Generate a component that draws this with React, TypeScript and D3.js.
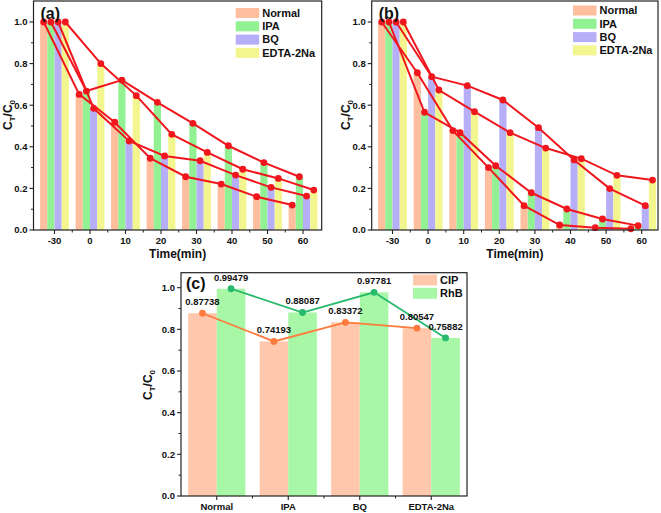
import React from "react";
import * as d3 from "d3";

const times = ["-30", "0", "10", "20", "30", "40", "50", "60"];
const seriesNames = ["Normal", "IPA", "BQ", "EDTA-2Na"];
const seriesColors = ["#FFBE9E", "#92F192", "#B6AEF7", "#F3F68E"];

// Panel (a)
const aNormal = [1.0, 0.652, 0.518, 0.345, 0.256, 0.221, 0.16, 0.12];
const aIPA = [1.0, 0.668, 0.721, 0.614, 0.513, 0.405, 0.324, 0.256];
const aBQ = [1.0, 0.585, 0.428, 0.356, 0.333, 0.264, 0.205, 0.163];
const aEDTA = [1.0, 0.8, 0.646, 0.46, 0.373, 0.292, 0.248, 0.192];

// Panel (b)
const bNormal = [1.0, 0.756, 0.478, 0.3, 0.117, 0.024, 0.011, 0.006];
const bIPA = [1.0, 0.566, 0.468, 0.309, 0.179, 0.101, 0.053, 0.021];
const bBQ = [1.0, 0.737, 0.694, 0.625, 0.492, 0.337, 0.199, 0.117];
const bEDTA = [1.0, 0.673, 0.569, 0.468, 0.394, 0.343, 0.263, 0.24];

// Panel (c)
const cCategories = ["Normal", "IPA", "BQ", "EDTA-2Na"];
const cCIP = [0.87738, 0.74193, 0.83372, 0.80547];
const cRhB = [0.99479, 0.88087, 0.97781, 0.75882];
const cLabelsCIP = ["0.87738", "0.74193", "0.83372", "0.80547"];
const cLabelsRhB = ["0.99479", "0.88087", "0.97781", "0.75882"];

const yTicksAB = [0, 0.2, 0.4, 0.6, 0.8, 1.0];
const yMinorAB = [0.1, 0.3, 0.5, 0.7, 0.9];

const FONT = "'Liberation Sans', Arial, sans-serif";
const AXIS = "#222";

function YTitle({ x, y }: { x: number; y: number }) {
  return (
    <text
      transform={`translate(${x},${y}) rotate(-90)`}
      textAnchor="middle"
      fontFamily={FONT}
      fontWeight="bold"
      fontSize={12}
      fill="#111"
    >
      C
      <tspan fontSize={8} dy={3}>T</tspan>
      <tspan dy={-3}>/C</tspan>
      <tspan fontSize={8} dy={3}>0</tspan>
    </text>
  );
}

function YAxis({ x, y, ticks, minor }: { x: number; y: d3.ScaleLinear<number, number>; ticks: number[]; minor: number[] }) {
  return (
    <g>
      {ticks.map((t) => (
        <g key={"t" + t}>
          <line x1={x - 4} x2={x} y1={y(t)} y2={y(t)} stroke={AXIS} strokeWidth={1.1} />
          <text x={x - 6} y={y(t)} dy="0.35em" textAnchor="end" fontFamily={FONT} fontWeight="bold" fontSize={9.5} fill="#111">
            {d3.format(".1f")(t)}
          </text>
        </g>
      ))}
      {minor.map((t) => (
        <line key={"m" + t} x1={x - 2.5} x2={x} y1={y(t)} y2={y(t)} stroke={AXIS} strokeWidth={1} />
      ))}
    </g>
  );
}

function TimePanel({
  label,
  left,
  right,
  firstC,
  lastC,
  data,
  legendX,
  legendY,
}: {
  label: string;
  left: number;
  right: number;
  firstC: number;
  lastC: number;
  data: number[][];
  legendX: number;
  legendY: number;
}) {
  const top = 1;
  const bottom = 230;
  const y = d3.scaleLinear().domain([0, 1.1]).range([230, 1.2]);
  const xc = d3.scalePoint<string>().domain(times).range([firstC, lastC]);
  const step = xc.step();
  const bw = 7.2;
  const off = (i: number) => (i - 1.5) * bw;
  const line = d3
    .line<number>()
    .x((_, j) => 0)
    .y((d) => y(d));
  return (
    <g>
      {data.map((series, i) =>
        series.map((v, j) => (
          <rect
            key={`b${i}-${j}`}
            x={(xc(times[j]) as number) + off(i) - bw / 2}
            y={y(v)}
            width={bw}
            height={y(0) - y(v)}
            fill={seriesColors[i]}
          />
        ))
      )}
      {data.map((series, i) => {
        const pts: [number, number][] = series.map((v, j) => [(xc(times[j]) as number) + off(i), y(v)]);
        const path = d3.line()(pts) as string;
        return (
          <g key={"l" + i}>
            <path d={path} fill="none" stroke="#F0161E" strokeWidth={2} />
            {pts.map((p, j) => (
              <circle key={j} cx={p[0]} cy={p[1]} r={3.4} fill="#F0161E" />
            ))}
          </g>
        );
      })}
      <rect x={left} y={top} width={right - left} height={bottom - top} fill="none" stroke={AXIS} strokeWidth={1.2} />
      <YAxis x={left} y={y} ticks={yTicksAB} minor={yMinorAB} />
      {times.map((t) => (
        <g key={"x" + t}>
          <line x1={xc(t)} x2={xc(t)} y1={bottom} y2={bottom + 4} stroke={AXIS} strokeWidth={1.1} />
          <text x={xc(t)} y={bottom + 14} textAnchor="middle" fontFamily={FONT} fontWeight="bold" fontSize={9.5} fill="#111">
            {t}
          </text>
        </g>
      ))}
      {times.slice(0, -1).map((t) => (
        <line key={"mx" + t} x1={(xc(t) as number) + step / 2} x2={(xc(t) as number) + step / 2} y1={bottom} y2={bottom + 2.5} stroke={AXIS} strokeWidth={1} />
      ))}
      <text x={(left + right) / 2} y={bottom + 28} textAnchor="middle" fontFamily={FONT} fontWeight="bold" fontSize={12} fill="#111">
        Time(min)
      </text>
      <YTitle x={left - 22} y={115} />
      <text x={left + 7} y={19} fontFamily={FONT} fontWeight="bold" fontSize={16} fill="#111">
        {label}
      </text>
      {seriesNames.map((n, i) => (
        <g key={"lg" + n}>
          <rect x={legendX} y={legendY + i * 13.3 - 5} width={23.5} height={10} fill={seriesColors[i]} />
          <text x={legendX + 26.5} y={legendY + i * 13.3} dy="0.35em" fontFamily={FONT} fontWeight="bold" fontSize={11} fill="#111">
            {n}
          </text>
        </g>
      ))}
    </g>
  );
}

function PanelC() {
  const left = 181;
  const right = 467;
  const top = 272.7;
  const bottom = 496;
  const y = d3.scaleLinear().domain([0, 1.07]).range([496, 273.1]);
  const x = d3.scaleBand<string>().domain(cCategories).range([left, right]).paddingInner(0.2).paddingOuter(0.1);
  const bw = x.bandwidth() / 2;
  const ticks = [0, 0.2, 0.4, 0.6, 0.8, 1.0];
  const minor = [0.1, 0.3, 0.5, 0.7, 0.9];
  const cipPts: [number, number][] = cCIP.map((v, i) => [(x(cCategories[i]) as number) + bw / 2, y(v)]);
  const rhbPts: [number, number][] = cRhB.map((v, i) => [(x(cCategories[i]) as number) + bw * 1.5, y(v)]);
  const cipColor = "#FF7A3C";
  const rhbColor = "#27BA6C";
  return (
    <g>
      {cCIP.map((v, i) => (
        <rect key={"c" + i} x={x(cCategories[i])} y={y(v)} width={bw} height={y(0) - y(v)} fill="#FFC7AB" />
      ))}
      {cRhB.map((v, i) => (
        <rect key={"r" + i} x={(x(cCategories[i]) as number) + bw} y={y(v)} width={bw} height={y(0) - y(v)} fill="#A7F7A7" />
      ))}
      <path d={d3.line()(cipPts) as string} fill="none" stroke={cipColor} strokeWidth={1.8} />
      <path d={d3.line()(rhbPts) as string} fill="none" stroke={rhbColor} strokeWidth={1.8} />
      {cipPts.map((p, i) => (
        <circle key={"cp" + i} cx={p[0]} cy={p[1]} r={3.4} fill={cipColor} />
      ))}
      {rhbPts.map((p, i) => (
        <circle key={"rp" + i} cx={p[0]} cy={p[1]} r={3.4} fill={rhbColor} />
      ))}
      {cipPts.map((p, i) => (
        <text key={"cl" + i} x={p[0]} y={p[1] - 8} textAnchor="middle" fontFamily={FONT} fontWeight="bold" fontSize={9.5} fill="#111">
          {cLabelsCIP[i]}
        </text>
      ))}
      {rhbPts.map((p, i) => (
        <text key={"rl" + i} x={p[0]} y={p[1] - 8} textAnchor="middle" fontFamily={FONT} fontWeight="bold" fontSize={9.5} fill="#111">
          {cLabelsRhB[i]}
        </text>
      ))}
      <rect x={left} y={top} width={right - left} height={bottom - top} fill="none" stroke={AXIS} strokeWidth={1.2} />
      <YAxis x={left} y={y} ticks={ticks} minor={minor} />
      {cCategories.map((c) => (
        <g key={"xc" + c}>
          <line x1={(x(c) as number) + x.bandwidth() / 2} x2={(x(c) as number) + x.bandwidth() / 2} y1={bottom} y2={bottom + 4} stroke={AXIS} strokeWidth={1.1} />
          <text x={(x(c) as number) + x.bandwidth() / 2} y={bottom + 14} textAnchor="middle" fontFamily={FONT} fontWeight="bold" fontSize={9.5} fill="#111">
            {c}
          </text>
        </g>
      ))}
      {cCategories.slice(0, -1).map((c) => {
        const mx = (x(c) as number) + x.bandwidth() + (x.step() - x.bandwidth()) / 2;
        return <line key={"mxc" + c} x1={mx} x2={mx} y1={bottom} y2={bottom + 2.5} stroke={AXIS} strokeWidth={1} />;
      })}
      <YTitle x={left - 29} y={385} />
      <text x={left + 5} y={289} fontFamily={FONT} fontWeight="bold" fontSize={16} fill="#111">
        (c)
      </text>
      {["CIP", "RhB"].map((n, i) => (
        <g key={"lc" + n}>
          <rect x={413} y={280 + i * 13.3 - 5.5} width={24} height={11} fill={i === 0 ? "#FFC7AB" : "#A7F7A7"} />
          <text x={440} y={280 + i * 13.3} dy="0.35em" fontFamily={FONT} fontWeight="bold" fontSize={11} fill="#111">
            {n}
          </text>
        </g>
      ))}
    </g>
  );
}

export default function App() {
  return (
    <svg
      width={661}
      height={513}
      style={{ position: "absolute", left: 0, top: 0, background: "#fff" }}
    >
      <rect width={661} height={513} fill="#fff" />
      <TimePanel
        label="(a)"
        left={33.5}
        right={321.7}
        firstC={54.5}
        lastC={303}
        data={[aNormal, aIPA, aBQ, aEDTA]}
        legendX={235.7}
        legendY={13}
      />
      <TimePanel
        label="(b)"
        left={371.7}
        right={658}
        firstC={392.5}
        lastC={641.7}
        data={[bNormal, bIPA, bBQ, bEDTA]}
        legendX={573}
        legendY={10.5}
      />
      <PanelC />
    </svg>
  );
}
